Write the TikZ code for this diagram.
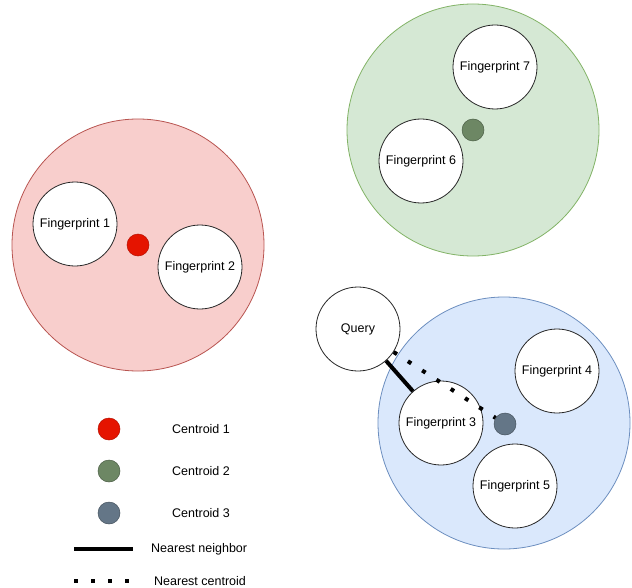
\documentclass[tikz,border=0pt]{standalone}
\usepackage{fontspec}
\setmainfont{Liberation Sans}
\definecolor{redfill}{HTML}{F8CECC}
\definecolor{redline}{HTML}{B85450}
\definecolor{greenfill}{HTML}{D5E8D4}
\definecolor{greenline}{HTML}{82B366}
\definecolor{bluefill}{HTML}{DAE8FC}
\definecolor{blueline}{HTML}{6C8EBF}
\definecolor{cone}{HTML}{E51400}
\definecolor{ctwo}{HTML}{6D8764}
\definecolor{cthree}{HTML}{647687}

\begin{document}
\begin{tikzpicture}[x=1bp, y=-1bp,
    every node/.style={circle, draw, inner sep=0pt, font=\fontsize{12.5bp}{15bp}\selectfont},
    cluster/.style={minimum size=252bp, line width=0.8bp},
    print/.style={fill=white, draw=black!85, minimum size=84bp, line width=0.8bp},
    centroid/.style={minimum size=22bp, line width=0.5bp},
    legendtext/.style={draw=none, rectangle, anchor=west},
    nearest/.style={line width=4bp},
    tocentroid/.style={line width=4bp, dash pattern=on 4bp off 13bp}]

    \useasboundingbox (0,0) rectangle (632,588);

    % Red cluster
    \node[cluster, fill=redfill, draw=redline] (redc) at (138,245) {};
    \node[print] (fp1) at (75,224) {Fingerprint 1};
    \node[print] (fp2) at (200,267) {Fingerprint 2};
    \node[centroid, fill=cone, draw=cone!80!black] (c1) at (138,245) {};

    % Green cluster
    \node[cluster, fill=greenfill, draw=greenline] (greenc) at (473,130) {};
    \node[print] (fp7) at (495,67) {Fingerprint 7};
    \node[print] (fp6) at (421,161) {Fingerprint 6};
    \node[centroid, fill=ctwo, draw=ctwo!70!black] (c2) at (473,130) {};

    % Blue cluster
    \node[cluster, fill=bluefill, draw=blueline] (bluec) at (504,423) {};
    \node[print] (fp3) at (441,423) {Fingerprint 3};
    \node[print] (fp4) at (557,371) {Fingerprint 4};
    \node[print] (fp5) at (515,486) {Fingerprint 5};
    \node[centroid, fill=cthree, draw=cthree!70!black] (c3) at (505,424) {};

    % Query and its links
    \node[print] (query) at (358,329) {Query};
    \draw[nearest] (query) -- (fp3);
    \draw[tocentroid] (query) -- (c3);

    % Legend
    \node[centroid, fill=cone, draw=cone!80!black] (lc1) at (109,429) {};
    \node[legendtext] (lt1) at (172,429) {Centroid 1};
    \node[centroid, fill=ctwo, draw=ctwo!70!black] (lc2) at (109,471) {};
    \node[legendtext] (lt2) at (172,471) {Centroid 2};
    \node[centroid, fill=cthree, draw=cthree!70!black] (lc3) at (109,513) {};
    \node[legendtext] (lt3) at (172,513) {Centroid 3};
    \coordinate (nn1) at (74,549);
    \coordinate (nn2) at (133,549);
    \draw[nearest] (nn1) -- (nn2);
    \node[legendtext] (lt4) at (151,549) {Nearest neighbor};
    \coordinate (nc1) at (74,581);
    \coordinate (nc2) at (133,581);
    \draw[tocentroid] (nc1) -- (nc2);
    \node[legendtext] (lt5) at (154,581) {Nearest centroid};
\end{tikzpicture}
\end{document}
